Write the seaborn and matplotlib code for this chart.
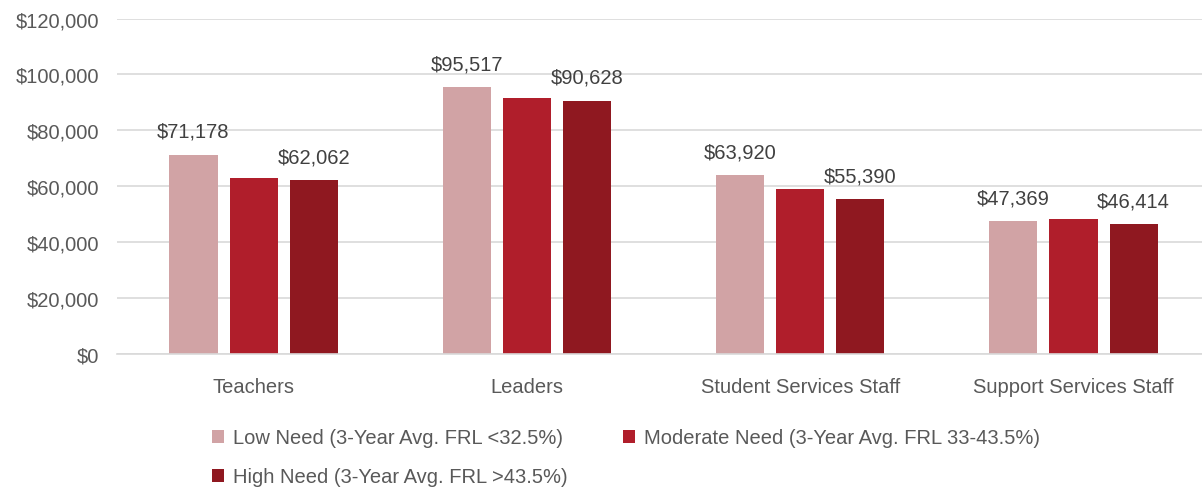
import numpy as np
import pandas as pd
import matplotlib
matplotlib.use("Agg")
import matplotlib.pyplot as plt
import seaborn as sns

ROLES = ["Teachers", "Leaders", "Student Services Staff", "Support Services Staff"]
NEEDS = ["Low Need (3-Year Avg. FRL <32.5%)",
         "Moderate Need (3-Year Avg. FRL 33-43.5%)",
         "High Need (3-Year Avg. FRL >43.5%)"]
LOW_NEED = [71178, 95517, 63920, 47369]
MODERATE_NEED = [62900, 91700, 58900, 48100]
HIGH_NEED = [62062, 90628, 55390, 46414]
COLORS = ["#D1A3A5", "#B01E2B", "#8F1820"]

df = pd.DataFrame({
    "role": ROLES * 3,
    "need": [NEEDS[0]] * 4 + [NEEDS[1]] * 4 + [NEEDS[2]] * 4,
    "salary": LOW_NEED + MODERATE_NEED + HIGH_NEED,
})

sns.set_theme(style="white")
plt.rcParams["font.family"] = ["Liberation Sans", "DejaVu Sans"]

fig = plt.figure(figsize=(12.02, 4.89), dpi=100)
ax = fig.add_axes([0.0973, 0.275, 0.9027, 0.685])

sns.barplot(data=df, x="role", y="salary", hue="need", hue_order=NEEDS,
            palette=COLORS, width=0.66, gap=0.2, saturation=1,
            linewidth=0, ax=ax)

# only low and high need bars carry labels
for i in (0, 2):
    ax.bar_label(ax.containers[i], fmt="${:,.0f}", padding=10,
                 fontsize=14.5, color="#404040")

ax.set_ylim(0, 120000)
ax.set_xlim(-0.5, 3.47)
ax.set_yticks(np.arange(0, 120001, 20000))
ax.set_yticklabels([f"${v:,.0f}" for v in np.arange(0, 120001, 20000)])
ax.yaxis.grid(True, color="#D9D9D9", linewidth=1.2)
ax.set_axisbelow(True)
for side in ("left", "right", "top"):
    ax.spines[side].set_visible(False)
ax.spines["bottom"].set_color("#D9D9D9")
ax.spines["bottom"].set_linewidth(1.2)
ax.tick_params(axis="both", length=0, labelsize=14.5, labelcolor="#595959")
ax.tick_params(axis="y", pad=13)
ax.tick_params(axis="x", pad=17)
ax.set_xlabel("")
ax.set_ylabel("")

handles, labels = ax.get_legend_handles_labels()
ax.get_legend().remove()
order = [0, 2, 1]
fig.legend([handles[i] for i in order], [labels[i] for i in order],
           ncol=2, loc="upper left", bbox_to_anchor=(0.176, 0.122),
           frameon=False, fontsize=14.5, labelcolor="#595959",
           handlelength=0.6, handleheight=0.6, handletextpad=0.45,
           columnspacing=2.75, labelspacing=1.0, borderaxespad=0, borderpad=0)

plt.savefig("out.png", dpi=100)
